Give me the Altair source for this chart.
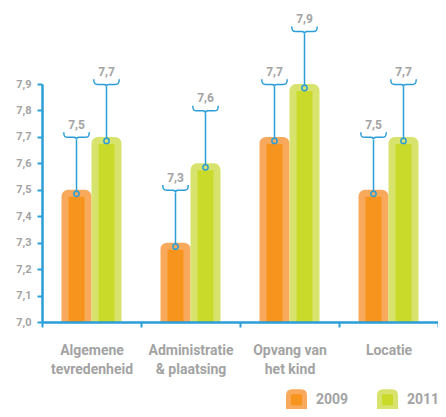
import altair as alt
import pandas as pd

categories = ["Algemene\ntevredenheid", "Administratie\n& plaatsing", "Opvang van\nhet kind", "Locatie"]
years = ["2009", "2011"]
scores_2009 = [7.5, 7.3, 7.7, 7.5]
scores_2011 = [7.7, 7.6, 7.9, 7.7]
y_ticks = [7.0, 7.1, 7.2, 7.3, 7.4, 7.5, 7.6, 7.7, 7.8, 7.9]

dark = ["#F7941D", "#CADA2A"]
light = ["#F9A95B", "#D7E36C"]
BLUE = "#2B9ED8"
GRAY = "#A3A3A3"
FONT = "Roboto"

BRACE = ("M -1 -0.28 C -1 0.06 -0.9 0.12 -0.7 0.12 L -0.2 0.12 "
         "C -0.05 0.12 0 0.2 0 0.3 C 0 0.2 0.05 0.12 0.2 0.12 "
         "L 0.7 0.12 C 0.9 0.12 1 0.06 1 -0.28")
SWATCH = "M -1 1 L -1 -0.55 Q -1 -1 -0.55 -1 L 0.55 -1 Q 1 -1 1 -0.55 L 1 1 Z"

rows = []
for c, a, b in zip(categories, scores_2009, scores_2011):
    for yr, v in ((years[0], a), (years[1], b)):
        rows.append({"cat": c, "year": yr, "value": v,
                     "label": f"{v:.1f}".replace(".", ",")})
df = pd.DataFrame(rows)

x_enc = alt.X(
    "cat:N", sort=categories,
    scale=alt.Scale(paddingInner=0, paddingOuter=0),
    axis=alt.Axis(title=None, labelExpr="split(datum.label, '\\n')", labelAngle=0,
                  labelFont=FONT, labelFontWeight="bold", labelFontSize=14,
                  labelColor=GRAY, labelLineHeight=19, labelPadding=16,
                  tickBand="extent", tickColor=BLUE, tickWidth=2, tickSize=5,
                  domainColor=BLUE, domainWidth=2.5, zindex=1),
)
y_enc = alt.Y(
    "value:Q",
    scale=alt.Scale(domain=[7.0, 7.9], zero=False, nice=False),
    axis=alt.Axis(title=None, values=y_ticks,
                  labelExpr="replace(format(datum.value, '.1f'), '.', ',')",
                  labelFont=FONT, labelFontWeight="bold", labelFontSize=11,
                  labelColor=GRAY, labelPadding=6, tickColor=BLUE, tickWidth=2,
                  tickSize=5, domainColor=BLUE, domainWidth=2.5, grid=False, zindex=1),
)
xoff_enc = alt.XOffset("year:N", sort=years,
                       scale=alt.Scale(paddingInner=0, paddingOuter=0.65))

legend = alt.Legend(title=None, orient="none", legendX=244, legendY=305,
                    direction="horizontal", symbolType=SWATCH, symbolSize=256,
                    symbolStrokeWidth=5, labelFont=FONT, labelFontWeight="bold",
                    labelFontSize=14, labelColor=GRAY, labelOffset=9,
                    columnPadding=20, padding=0)

base = alt.Chart(df).encode(x=x_enc, xOffset=xoff_enc, y=y_enc)

bars = base.mark_bar(width=23, strokeWidth=7, cornerRadiusTopLeft=3,
                     cornerRadiusTopRight=3, yOffset=3.5, y2Offset=8,
                     clip=True).encode(
    y2=alt.datum(7.0),
    fill=alt.Fill("year:N", sort=years, scale=alt.Scale(domain=years, range=dark), legend=legend),
    stroke=alt.Stroke("year:N", sort=years, scale=alt.Scale(domain=years, range=light), legend=legend),
)

stems = base.mark_rule(color=BLUE, strokeWidth=1.5, yOffset=1.5, y2Offset=-50).encode(
    y2="value:Q")

circles = base.mark_point(shape="circle", size=28, filled=False, color=BLUE,
                          strokeWidth=1.5, opacity=1, yOffset=4)

braces = base.mark_point(shape=BRACE, size=650, filled=False, color=BLUE,
                         strokeWidth=1.5, opacity=1, yOffset=-54)

labels = base.mark_text(yOffset=-65, font=FONT, fontWeight="bold", fontSize=12,
                        color=GRAY).encode(text="label:N")

chart = alt.layer(bars, stems, circles, braces, labels).properties(
    width=396, height=238,
    padding={"left": 34, "top": 76, "right": 0, "bottom": 87},
    autosize=alt.AutoSizeParams(type="none"),
).configure_view(stroke=None)

chart.save("out.html", embed_options={"renderer": "svg", "actions": False})
